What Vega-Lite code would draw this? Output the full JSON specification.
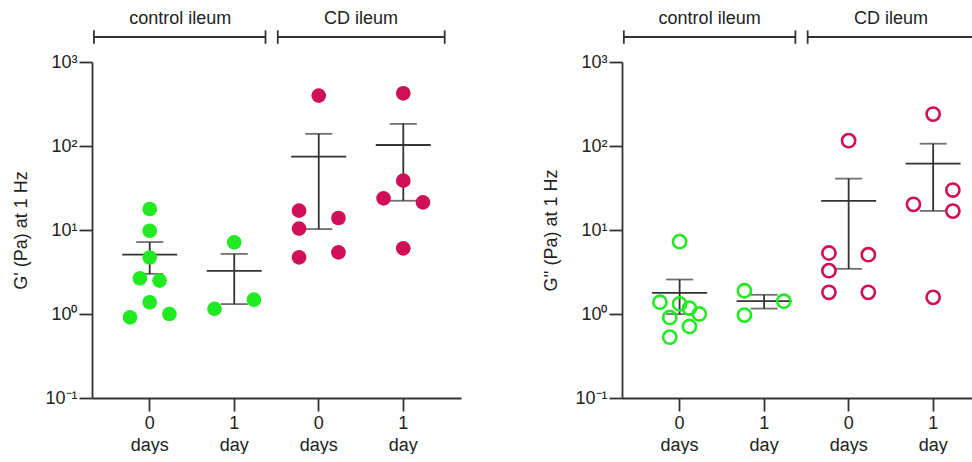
{
  "$schema": "https://vega.github.io/schema/vega-lite/v6.json",
  "padding": {"left": 12, "top": 10, "right": 0, "bottom": 0},
  "spacing": 81,
  "config": {
    "font": "Liberation Sans",
    "view": {"stroke": null},
    "axis": {
      "domainColor": "#333333", "domainWidth": 1.8,
      "tickColor": "#333333", "tickWidth": 1.8, "tickSize": 13,
      "labelFontSize": 18, "labelColor": "#222222",
      "titleFontSize": 18, "titleFontWeight": "normal", "titleColor": "#222222",
      "grid": false
    }
  },
  "datasets": {
    "gp": [
      {"group": "c0", "tissue": "control", "slot": 0, "value": 17.8},
      {"group": "c0", "tissue": "control", "slot": 0, "value": 9.8},
      {"group": "c0", "tissue": "control", "slot": 0, "value": 4.7},
      {"group": "c0", "tissue": "control", "slot": -1, "value": 2.66},
      {"group": "c0", "tissue": "control", "slot": 1, "value": 2.5},
      {"group": "c0", "tissue": "control", "slot": 0, "value": 1.38},
      {"group": "c0", "tissue": "control", "slot": -2, "value": 0.91},
      {"group": "c0", "tissue": "control", "slot": 2, "value": 1.0},
      {"group": "c1", "tissue": "control", "slot": 0, "value": 7.13},
      {"group": "c1", "tissue": "control", "slot": -2, "value": 1.15},
      {"group": "c1", "tissue": "control", "slot": 2, "value": 1.48},
      {"group": "cd0", "tissue": "CD", "slot": 0, "value": 398},
      {"group": "cd0", "tissue": "CD", "slot": -2, "value": 17.0},
      {"group": "cd0", "tissue": "CD", "slot": -2, "value": 10.4},
      {"group": "cd0", "tissue": "CD", "slot": -2, "value": 4.73},
      {"group": "cd0", "tissue": "CD", "slot": 2, "value": 13.9},
      {"group": "cd0", "tissue": "CD", "slot": 2, "value": 5.42},
      {"group": "cd1", "tissue": "CD", "slot": 0, "value": 424},
      {"group": "cd1", "tissue": "CD", "slot": 0, "value": 38.7},
      {"group": "cd1", "tissue": "CD", "slot": -2, "value": 23.8},
      {"group": "cd1", "tissue": "CD", "slot": 2, "value": 21.3},
      {"group": "cd1", "tissue": "CD", "slot": 0, "value": 6.05}
    ],
    "gpp": [
      {"group": "c0", "tissue": "control", "slot": 0, "value": 7.26},
      {"group": "c0", "tissue": "control", "slot": -2, "value": 1.38},
      {"group": "c0", "tissue": "control", "slot": 0, "value": 1.32},
      {"group": "c0", "tissue": "control", "slot": 1, "value": 1.17},
      {"group": "c0", "tissue": "control", "slot": 2, "value": 1.0},
      {"group": "c0", "tissue": "control", "slot": -1, "value": 0.91},
      {"group": "c0", "tissue": "control", "slot": 1, "value": 0.71},
      {"group": "c0", "tissue": "control", "slot": -1, "value": 0.53},
      {"group": "c1", "tissue": "control", "slot": -2, "value": 1.89},
      {"group": "c1", "tissue": "control", "slot": -2, "value": 0.97},
      {"group": "c1", "tissue": "control", "slot": 2, "value": 1.42},
      {"group": "cd0", "tissue": "CD", "slot": 0, "value": 115.7},
      {"group": "cd0", "tissue": "CD", "slot": -2, "value": 5.32},
      {"group": "cd0", "tissue": "CD", "slot": -2, "value": 3.28},
      {"group": "cd0", "tissue": "CD", "slot": -2, "value": 1.81},
      {"group": "cd0", "tissue": "CD", "slot": 2, "value": 5.08},
      {"group": "cd0", "tissue": "CD", "slot": 2, "value": 1.81},
      {"group": "cd1", "tissue": "CD", "slot": 0, "value": 240},
      {"group": "cd1", "tissue": "CD", "slot": 2, "value": 29.9},
      {"group": "cd1", "tissue": "CD", "slot": -2, "value": 20.2},
      {"group": "cd1", "tissue": "CD", "slot": 2, "value": 16.8},
      {"group": "cd1", "tissue": "CD", "slot": 0, "value": 1.58}
    ],
    "ctl": [{"t": "control ileum"}],
    "cd": [{"t": "CD ileum"}]
  },
  "hconcat": [
    {
      "width": 369,
      "height": 336,
      "layer": [
        {
          "data": {"name": "gp"},
          "mark": {"type": "errorbar", "extent": "stderr", "ticks": {"size": 27, "thickness": 1.8, "color": "#333333"}, "rule": {"strokeWidth": 1.8, "color": "#333333"}},
          "encoding": {
            "x": {"field": "group", "type": "nominal",
                  "scale": {"type": "band", "domain": ["c0", "c1", "cd0", "cd1"], "paddingInner": 0, "paddingOuter": 0.183, "align": 0.5},
                  "axis": {"title": null, "labelAngle": 0, "labelPadding": 3, "labelLineHeight": 22,
                           "labelExpr": "(datum.value == 'c0' || datum.value == 'cd0') ? ['0', 'days'] : ['1', 'day']"}},
            "y": {"field": "value", "type": "quantitative", "title": "G' (Pa) at 1 Hz",
                  "scale": {"type": "log", "domain": [0.1, 1000], "nice": false},
                  "axis": {"values": [0.1, 1, 10, 100, 1000], "labelPadding": 2, "titlePadding": 14,
                           "labelExpr": "datum.value >= 999 ? '10³' : datum.value >= 99 ? '10²' : datum.value >= 9 ? '10¹' : datum.value >= 0.9 ? '10⁰' : '10⁻¹'"}}
          }
        },
        {
          "data": {"name": "gp"},
          "mark": {"type": "tick", "size": 55, "thickness": 1.8, "color": "#333333"},
          "encoding": {
            "x": {"field": "group", "type": "nominal"},
            "y": {"aggregate": "mean", "field": "value", "type": "quantitative", "title": "G' (Pa) at 1 Hz"}
          }
        },
        {
          "data": {"name": "gp"},
          "mark": {"type": "circle", "size": 215, "opacity": 1},
          "encoding": {
            "x": {"field": "group", "type": "nominal"},
            "xOffset": {"field": "slot", "type": "quantitative", "scale": {"domain": [-2, 2], "range": [22.55, 61.95]}},
            "y": {"field": "value", "type": "quantitative", "title": "G' (Pa) at 1 Hz"},
            "color": {"field": "tissue", "type": "nominal", "scale": {"domain": ["control", "CD"], "range": ["#22EA22", "#CF1057"]}, "legend": null}
          }
        },
        {
          "data": {"name": "ctl"},
          "mark": {"type": "rule", "strokeWidth": 1.8, "color": "#333333"},
          "encoding": {
            "x": {"datum": "c0", "type": "nominal", "bandPosition": -0.16},
            "x2": {"datum": "c1", "bandPosition": 0.87},
            "y": {"datum": 1983, "type": "quantitative"}
          }
        },
        {
          "data": {"name": "ctl"},
          "mark": {"type": "rule", "strokeWidth": 1.8, "color": "#333333"},
          "encoding": {
            "x": {"datum": "c0", "type": "nominal", "bandPosition": -0.16},
            "y": {"datum": 1648, "type": "quantitative"},
            "y2": {"datum": 2382}
          }
        },
        {
          "data": {"name": "ctl"},
          "mark": {"type": "rule", "strokeWidth": 1.8, "color": "#333333"},
          "encoding": {
            "x": {"datum": "c1", "type": "nominal", "bandPosition": 0.87},
            "y": {"datum": 1648, "type": "quantitative"},
            "y2": {"datum": 2382}
          }
        },
        {
          "data": {"name": "ctl"},
          "mark": {"type": "text", "fontSize": 18, "color": "#222222", "baseline": "alphabetic", "align": "center"},
          "encoding": {
            "x": {"datum": "c0", "type": "nominal", "bandPosition": 0.86},
            "y": {"datum": 2807, "type": "quantitative"},
            "text": {"field": "t"}
          }
        },
        {
          "data": {"name": "cd"},
          "mark": {"type": "rule", "strokeWidth": 1.8, "color": "#333333"},
          "encoding": {
            "x": {"datum": "cd0", "type": "nominal", "bandPosition": 0.015},
            "x2": {"datum": "cd1", "bandPosition": 0.99},
            "y": {"datum": 1983, "type": "quantitative"}
          }
        },
        {
          "data": {"name": "cd"},
          "mark": {"type": "rule", "strokeWidth": 1.8, "color": "#333333"},
          "encoding": {
            "x": {"datum": "cd0", "type": "nominal", "bandPosition": 0.015},
            "y": {"datum": 1648, "type": "quantitative"},
            "y2": {"datum": 2382}
          }
        },
        {
          "data": {"name": "cd"},
          "mark": {"type": "rule", "strokeWidth": 1.8, "color": "#333333"},
          "encoding": {
            "x": {"datum": "cd1", "type": "nominal", "bandPosition": 0.99},
            "y": {"datum": 1648, "type": "quantitative"},
            "y2": {"datum": 2382}
          }
        },
        {
          "data": {"name": "cd"},
          "mark": {"type": "text", "fontSize": 18, "color": "#222222", "baseline": "alphabetic", "align": "center"},
          "encoding": {
            "x": {"datum": "cd0", "type": "nominal", "bandPosition": 1.0},
            "y": {"datum": 2807, "type": "quantitative"},
            "text": {"field": "t"}
          }
        }
      ]
    },
    {
      "width": 358,
      "height": 336,
      "layer": [
        {
          "data": {"name": "gpp"},
          "mark": {"type": "errorbar", "extent": "stderr", "ticks": {"size": 27, "thickness": 1.8, "color": "#333333"}, "rule": {"strokeWidth": 1.8, "color": "#333333"}},
          "encoding": {
            "x": {"field": "group", "type": "nominal",
                  "scale": {"type": "band", "domain": ["c0", "c1", "cd0", "cd1"], "paddingInner": 0, "paddingOuter": 0.118, "align": 0.77},
                  "axis": {"title": null, "labelAngle": 0, "labelPadding": 3, "labelLineHeight": 22,
                           "labelExpr": "(datum.value == 'c0' || datum.value == 'cd0') ? ['0', 'days'] : ['1', 'day']"}},
            "y": {"field": "value", "type": "quantitative", "title": "G'' (Pa) at 1 Hz",
                  "scale": {"type": "log", "domain": [0.1, 1000], "nice": false},
                  "axis": {"values": [0.1, 1, 10, 100, 1000], "labelPadding": 2, "titlePadding": 14,
                           "labelExpr": "datum.value >= 999 ? '10³' : datum.value >= 99 ? '10²' : datum.value >= 9 ? '10¹' : datum.value >= 0.9 ? '10⁰' : '10⁻¹'"}}
          }
        },
        {
          "data": {"name": "gpp"},
          "mark": {"type": "tick", "size": 55, "thickness": 1.8, "color": "#333333"},
          "encoding": {
            "x": {"field": "group", "type": "nominal"},
            "y": {"aggregate": "mean", "field": "value", "type": "quantitative", "title": "G'' (Pa) at 1 Hz"}
          }
        },
        {
          "data": {"name": "gpp"},
          "mark": {"type": "point", "shape": "circle", "filled": false, "size": 175, "strokeWidth": 2.6, "opacity": 1},
          "encoding": {
            "x": {"field": "group", "type": "nominal"},
            "xOffset": {"field": "slot", "type": "quantitative", "scale": {"domain": [-2, 2], "range": [22.55, 61.95]}},
            "y": {"field": "value", "type": "quantitative", "title": "G'' (Pa) at 1 Hz"},
            "color": {"field": "tissue", "type": "nominal", "scale": {"domain": ["control", "CD"], "range": ["#22EA22", "#CF1057"]}, "legend": null}
          }
        },
        {
          "data": {"name": "ctl"},
          "mark": {"type": "rule", "strokeWidth": 1.8, "color": "#333333"},
          "encoding": {
            "x": {"datum": "c0", "type": "nominal", "bandPosition": -0.16},
            "x2": {"datum": "c1", "bandPosition": 0.87},
            "y": {"datum": 1983, "type": "quantitative"}
          }
        },
        {
          "data": {"name": "ctl"},
          "mark": {"type": "rule", "strokeWidth": 1.8, "color": "#333333"},
          "encoding": {
            "x": {"datum": "c0", "type": "nominal", "bandPosition": -0.16},
            "y": {"datum": 1648, "type": "quantitative"},
            "y2": {"datum": 2382}
          }
        },
        {
          "data": {"name": "ctl"},
          "mark": {"type": "rule", "strokeWidth": 1.8, "color": "#333333"},
          "encoding": {
            "x": {"datum": "c1", "type": "nominal", "bandPosition": 0.87},
            "y": {"datum": 1648, "type": "quantitative"},
            "y2": {"datum": 2382}
          }
        },
        {
          "data": {"name": "ctl"},
          "mark": {"type": "text", "fontSize": 18, "color": "#222222", "baseline": "alphabetic", "align": "center"},
          "encoding": {
            "x": {"datum": "c0", "type": "nominal", "bandPosition": 0.855},
            "y": {"datum": 2807, "type": "quantitative"},
            "text": {"field": "t"}
          }
        },
        {
          "data": {"name": "cd"},
          "mark": {"type": "rule", "strokeWidth": 1.8, "color": "#333333"},
          "encoding": {
            "x": {"datum": "cd0", "type": "nominal", "bandPosition": 0.015},
            "x2": {"datum": "cd1", "bandPosition": 0.99},
            "y": {"datum": 1983, "type": "quantitative"}
          }
        },
        {
          "data": {"name": "cd"},
          "mark": {"type": "rule", "strokeWidth": 1.8, "color": "#333333"},
          "encoding": {
            "x": {"datum": "cd0", "type": "nominal", "bandPosition": 0.015},
            "y": {"datum": 1648, "type": "quantitative"},
            "y2": {"datum": 2382}
          }
        },
        {
          "data": {"name": "cd"},
          "mark": {"type": "rule", "strokeWidth": 1.8, "color": "#333333"},
          "encoding": {
            "x": {"datum": "cd1", "type": "nominal", "bandPosition": 0.99},
            "y": {"datum": 1648, "type": "quantitative"},
            "y2": {"datum": 2382}
          }
        },
        {
          "data": {"name": "cd"},
          "mark": {"type": "text", "fontSize": 18, "color": "#222222", "baseline": "alphabetic", "align": "center"},
          "encoding": {
            "x": {"datum": "cd0", "type": "nominal", "bandPosition": 1.0},
            "y": {"datum": 2807, "type": "quantitative"},
            "text": {"field": "t"}
          }
        }
      ]
    }
  ]
}
